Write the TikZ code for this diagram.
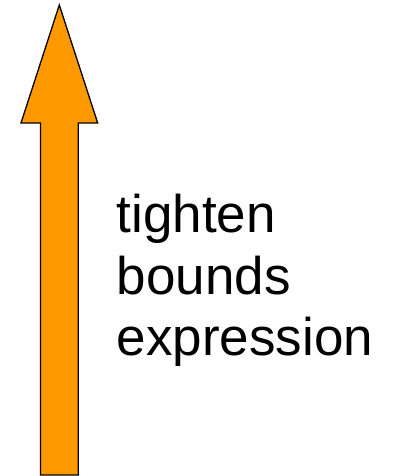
\documentclass[tikz,border=0pt]{standalone}
\usepackage{fontspec}
\setmainfont{Liberation Sans}
\definecolor{arroworange}{HTML}{FF9900}
\begin{document}
\begin{tikzpicture}[x=1pt,y=1pt,
  lbl/.style={anchor=base west,inner sep=0pt,font=\fontsize{53}{61.5}\selectfont}]
\useasboundingbox (0,0) rectangle (393,476);
\draw[fill=arroworange,line width=1.3pt,line join=miter]
  (40.5,1) -- (40.5,353) -- (21,353) -- (59.3,471) -- (97.7,353) -- (78.3,353) -- (78.3,1) -- cycle;
\node[lbl] (l1) at (116.5,243) {tighten};
\node[lbl] (l2) at (116.5,181.5) {bounds};
\node[lbl] (l3) at (116.5,120) {expression};
\end{tikzpicture}
\end{document}
